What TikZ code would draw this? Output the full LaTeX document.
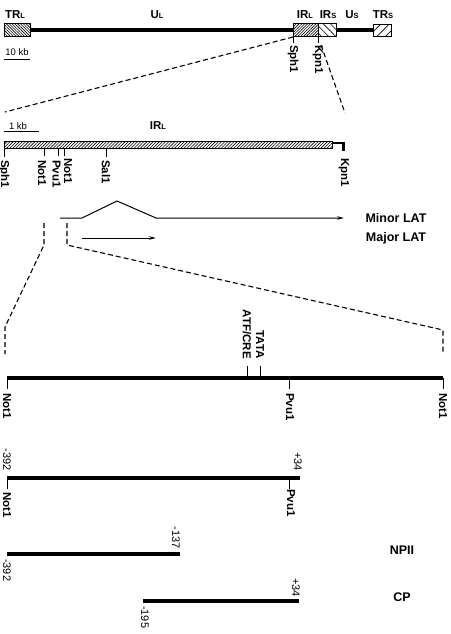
\documentclass[tikz,border=0pt]{standalone}
\usepackage{fontspec}
\setmainfont{Liberation Sans}
\usepackage{tikz}
\usetikzlibrary{arrows.meta,patterns.meta,positioning}

\newcommand{\lowcap}[1]{{\fontsize{7.5}{8}\selectfont #1}}

\begin{document}
\begin{tikzpicture}[x=1pt, y=-1pt,
    genome/.style={line width=3.6pt},
    region/.style={draw, line width=1pt, inner sep=0pt, minimum height=13pt},
    site/.style={rotate=-90, anchor=west, inner sep=0pt, font=\bfseries\fontsize{11.5}{11.5}\selectfont},
    number/.style={rotate=-90, inner sep=0pt, font=\fontsize{11}{11}\selectfont},
    segname/.style={inner sep=0pt, font=\bfseries\fontsize{11.5}{11.5}\selectfont},
    title/.style={inner sep=0pt, font=\bfseries\fontsize{12.5}{12.5}\selectfont},
    scalebar/.style={inner sep=0pt, font=\fontsize{9.5}{9.5}\selectfont},
    tick/.style={line width=1pt},
    zoomline/.style={line width=1.1pt, dash pattern=on 5pt off 3pt},
    lat/.style={line width=1pt, -{Stealth[length=7pt, width=3.5pt]}}
]
    \useasboundingbox (0,0) rectangle (450,634);

    % whole genome
    \node[region, minimum width=26pt, pattern={Lines[angle=-45, distance=2pt, line width=0.6pt]}] (trl) at (17,30) {};
    \node[region, minimum width=25pt, pattern={Lines[angle=45, distance=2pt, line width=0.6pt]}] (irl) at (305.5,30) {};
    \node[region, minimum width=18pt, pattern={Lines[angle=-45, distance=5pt, line width=0.6pt]}] (irs) at (327,30) {};
    \node[region, minimum width=18pt, minimum height=12pt, pattern={Lines[angle=45, distance=6pt, line width=0.6pt]}] (trs) at (382,31) {};
    \draw[genome] (trl.east) -- (irl.west);
    \draw[genome] (irs.east) -- (irs.east -| trs.west);

    \node[segname] (trlname) at (15,15) {TR\lowcap{L}};
    \node[segname] (ulname) at (157,15) {U\lowcap{L}};
    \node[segname] (irlname) at (305,15) {IR\lowcap{L}};
    \node[segname] (irsname) at (328,15) {IR\lowcap{S}};
    \node[segname] (usname) at (352,15) {U\lowcap{S}};
    \node[segname] (trsname) at (383,15) {TR\lowcap{S}};

    \node[scalebar] (tenkb) at (17,52) {10 kb};
    \draw[tick] (4,60) -- (30,60);

    \coordinate (sphtop) at (293,37);
    \coordinate (kpntop) at (318,37);
    \draw[tick] (sphtop) -- ++(0,6);
    \draw[tick] (kpntop) -- ++(0,6);
    \node[site] (sphtoplabel) at (293,45) {Sph1};
    \node[site] (kpntoplabel) at (318,45) {Kpn1};

    % expanded IRL
    \coordinate (leftcorner) at (5,112);
    \coordinate (rightcorner) at (345,113);
    \draw[zoomline] (sphtop) -- (leftcorner);
    \draw[zoomline] (321,45) -- (rightcorner);

    \node[scalebar] (onekb) at (18,126) {1 kb};
    \draw[tick] (4,131) -- (39,131);
    \node[segname] (irlbig) at (158,126) {IR\lowcap{L}};

    \node[draw, line width=1pt, inner sep=0pt, minimum width=328pt, minimum height=7pt,
          pattern={Lines[angle=45, distance=2.2pt, line width=0.6pt]}] (irlbar) at (168,144.5) {};
    \coordinate (kpnend) at (343.5,143);
    \draw[line width=2.2pt] (irlbar.east |- kpnend) -- (kpnend) -- ++(0,8);

    \draw[tick] (4,148) -- (4,157);
    \draw[tick] (44,148) -- (44,156);
    \draw[tick] (58,148) -- (58,156);
    \draw[tick] (64,148) -- (64,156);
    \draw[tick] (106,148) -- (106,157);
    \node[site] (sphA) at (4,160) {Sph1};
    \node[site] (notA) at (42,160) {Not1};
    \node[site] (pvuA) at (56.5,160) {Pvu1};
    \node[site] (notB) at (68,158) {Not1};
    \node[site] (salA) at (106,160) {Sal1};
    \node[site] (kpnA) at (344,158) {Kpn1};

    % LAT transcripts
    \coordinate (minorstart) at (60,218);
    \coordinate (minorend) at (344,218);
    \coordinate (majorstart) at (82,238);
    \coordinate (majorend) at (156,238);
    \draw[lat] (minorstart) -- (82,218) -- (117,201) -- (156,218) -- (minorend);
    \draw[lat] (majorstart) -- (majorend);
    \node[title] (minorlat) at (396,218) {Minor LAT};
    \node[title] (majorlat) at (396,238) {Major LAT};

    % promoter region
    \coordinate (notL) at (7,378);
    \coordinate (notR) at (443,378);
    \coordinate (pvuP) at (289,378);
    \draw[zoomline] (44,223) -- (44,245) -- (5,327) -- (5,354);
    \draw[zoomline] (67,223) -- (67,245) -- (443,330) -- (443,354);
    \draw[genome] (notL) -- (notR);
    \draw[tick] (notL) -- ++(0,11);
    \draw[tick] (pvuP) -- ++(0,11);
    \draw[tick] (notR) -- ++(0,11);
    \draw[tick] (247,378) -- (247,366);
    \draw[tick] (260,378) -- (260,366);
    \node[site, anchor=east] (atf) at (247,359) {ATF/CRE};
    \node[site, anchor=east] (tata) at (260,359) {TATA};
    \node[site] (notLlabel) at (7,393) {Not1};
    \node[site] (pvuPlabel) at (290,393) {Pvu1};
    \node[site] (notRlabel) at (443,393) {Not1};

    % Not1-Pvu1 fragment
    \coordinate (fragL) at (7,478);
    \coordinate (fragR) at (300,478);
    \draw[genome] (fragL) -- (fragR);
    \draw[tick] (fragL) -- ++(0,11);
    \draw[tick] (289,478) -- (289,489);
    \node[number, anchor=east] (fragLnum) at (7,471) {-392};
    \node[number, anchor=east] (fragRnum) at (298,471) {+34};
    \node[site] (fragLsite) at (7,492) {Not1};
    \node[site] (fragRsite) at (291,489) {Pvu1};

    % NPII
    \coordinate (npiiL) at (7,554);
    \coordinate (npiiR) at (180,554);
    \draw[genome] (npiiL) -- (npiiR);
    \node[number, anchor=east] (npiiRnum) at (176,549) {-137};
    \node[number, anchor=west] (npiiLnum) at (7,559) {-392};
    \node[title] (npii) at (402,550) {NPII};

    % CP
    \coordinate (cpL) at (143,601);
    \coordinate (cpR) at (299,601);
    \draw[genome] (cpL) -- (cpR);
    \node[number, anchor=east] (cpRnum) at (296,597) {+34};
    \node[number, anchor=west] (cpLnum) at (145,606) {-195};
    \node[title] (cp) at (402,597) {CP};
\end{tikzpicture}
\end{document}
